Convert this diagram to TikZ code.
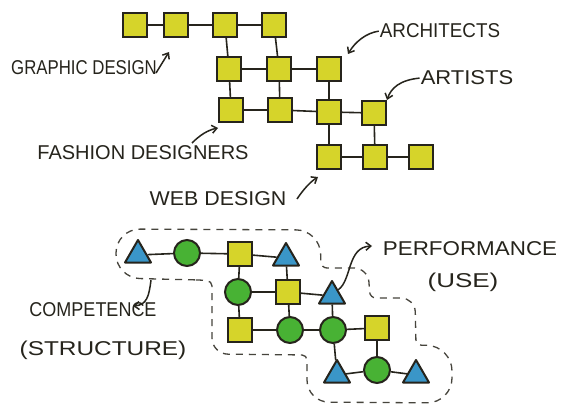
\documentclass[tikz,border=0pt]{standalone}
\usepackage{fontspec}
\setmainfont{Liberation Sans}
\usetikzlibrary{shapes.geometric,arrows.meta,calc}
\definecolor{ink}{RGB}{38,36,28}
\definecolor{yel}{RGB}{214,212,42}
\definecolor{grn}{RGB}{72,178,52}
\definecolor{blu}{RGB}{58,150,200}
\definecolor{dsh}{RGB}{70,68,60}
\newcommand{\hwl}[2]{\scalebox{#1}[1]{#2}}
\begin{document}
\begin{tikzpicture}[x=1pt,y=-1pt,
  sq/.style={draw=ink,fill=yel,line width=2.2pt,minimum size=24pt,inner sep=0pt},
  circ/.style={circle,draw=ink,fill=grn,line width=2pt,minimum size=26pt,inner sep=0pt},
  tri/.style={regular polygon,regular polygon sides=3,draw=ink,fill=blu,line width=2pt,line join=round,minimum size=30pt,inner sep=0pt},
  link/.style={draw=ink,line width=1.6pt},
  lbl/.style={text=ink,font=\fontsize{20}{22}\selectfont,inner sep=1pt,anchor=base},
  hand/.style={draw=ink,line width=1.5pt,-{Straight Barb[length=5pt,width=8pt]}},
  outline/.style={draw=dsh,line width=1.3pt,dash pattern=on 7pt off 6pt}]
\fill[white] (0,0) rectangle (564,409);
\useasboundingbox (0,0) rectangle (564,409);

% ---------- top network ----------
\node[sq] (a1) at (135,25) {};
\node[sq] (a2) at (176,25) {};
\node[sq] (a3) at (225,25) {};
\node[sq] (a4) at (274,25) {};
\node[sq] (b1) at (229,69) {};
\node[sq] (b2) at (279,69) {};
\node[sq] (b3) at (329,69) {};
\node[sq] (c1) at (231,110) {};
\node[sq] (c2) at (280,110) {};
\node[sq] (c3) at (329,112) {};
\node[sq] (c4) at (374,113) {};
\node[sq] (d1) at (329,157) {};
\node[sq] (d2) at (375,157) {};
\node[sq] (d3) at (421,157) {};
\draw[link] (a1)--(a2) (a2)--(a3) (a3)--(a4) (a3)--(b1) (a4)--(b2)
  (b1)--(b2) (b2)--(b3) (b1)--(c1) (b2)--(c2) (b3)--(c3)
  (c1)--(c2) (c2)--(c3) (c3)--(c4) (c3)--(d1) (c4)--(d2) (d1)--(d2) (d2)--(d3);

% ---------- top labels ----------
\node[lbl] (gd) at (84,75) {\hwl{0.84}{GRAPHIC DESIGN}};
\node[lbl] (arch) at (440,38) {\hwl{0.94}{ARCHITECTS}};
\node[lbl] (art) at (467,85) {\hwl{1.1}{ARTISTS}};
\node[lbl] (fd) at (143,159) {\hwl{1.0}{FASHION DESIGNERS}};
\node[lbl] (web) at (218,205) {\hwl{1.07}{WEB DESIGN}};

\coordinate (gdS) at (156,73);
\coordinate (gdT) at (169,52);
\coordinate (archT) at (348,54);
\coordinate (artT) at (387,100);
\coordinate (fdS) at (192,143);
\coordinate (fdT) at (218,128);
\coordinate (webS) at (297,199);
\coordinate (webT) at (318,177);
\draw[hand] (gdS) -- (gdT);
\draw[hand] (arch.west) .. controls (366,33) and (355,42) .. (archT);
\draw[hand] (art.west) .. controls (400,80) and (391,88) .. (artT);
\draw[hand] (fdS) .. controls (200,135) and (208,130) .. (fdT);
\draw[hand] (webS) .. controls (303,190) and (310,182) .. (webT);

% ---------- bottom network ----------
\node[tri] (e1) at (138,255) {};
\node[circ] (e2) at (187,253) {};
\node[sq] (e3) at (240,254) {};
\node[tri] (e4) at (286,258) {};
\node[circ] (f1) at (238,292) {};
\node[sq] (f2) at (288,292) {};
\node[tri] (f3) at (332,296) {};
\node[sq] (g1) at (240,330) {};
\node[circ] (g2) at (290,330) {};
\node[circ] (g3) at (333,330) {};
\node[sq] (g4) at (377,328) {};
\node[tri] (h1) at (337,375) {};
\node[circ] (h2) at (377,370) {};
\node[tri] (h3) at (416,375) {};
\draw[link] (e1)--(e2) (e2)--(e3) (e3)--(e4) (e3)--(f1) (e4)--(f2)
  (f1)--(f2) (f2)--(f3) (f1)--(g1) (f2)--(g2) (f3)--(g3)
  (g1)--(g2) (g2)--(g3) (g3)--(g4) (g3)--(h1) (g4)--(h2) (h1)--(h2) (h2)--(h3);

% ---------- dashed outline ----------
\draw[outline] (200,280) [rounded corners=24pt] -- (116,278) -- (116,229) -- (320,230)
  [rounded corners=6pt] -- (321,268) [rounded corners=14pt] -- (368,268)
  [rounded corners=6pt] -- (370,298) [rounded corners=14pt] -- (415,298)
  [rounded corners=5pt] -- (416,345) [rounded corners=25pt] -- (452,346)
  -- (452,403) [rounded corners=22pt] -- (307,402)
  [rounded corners=5pt] -- (307,355) [rounded corners=16pt] -- (212,354)
  [rounded corners=5pt] -- (212,281) -- cycle;

% ---------- bottom labels ----------
\node[lbl] (perf) at (470,255) {\hwl{1.12}{PERFORMANCE}};
\node[lbl] (use) at (463,287) {\hwl{1.3}{(USE)}};
\node[lbl] (comp) at (93,316) {\hwl{0.9}{COMPETENCE}};
\node[lbl] (struct) at (103,355) {\hwl{1.22}{(STRUCTURE)}};

\coordinate (perfT) at (372,246);
\coordinate (compS) at (151,280);
\coordinate (compT) at (133,306);
\draw[hand] (f3.north east) .. controls (352,280) and (347,247) .. (perfT);
\draw[hand] (compS) .. controls (149,296) and (147,305) .. (compT);
\end{tikzpicture}
\end{document}
